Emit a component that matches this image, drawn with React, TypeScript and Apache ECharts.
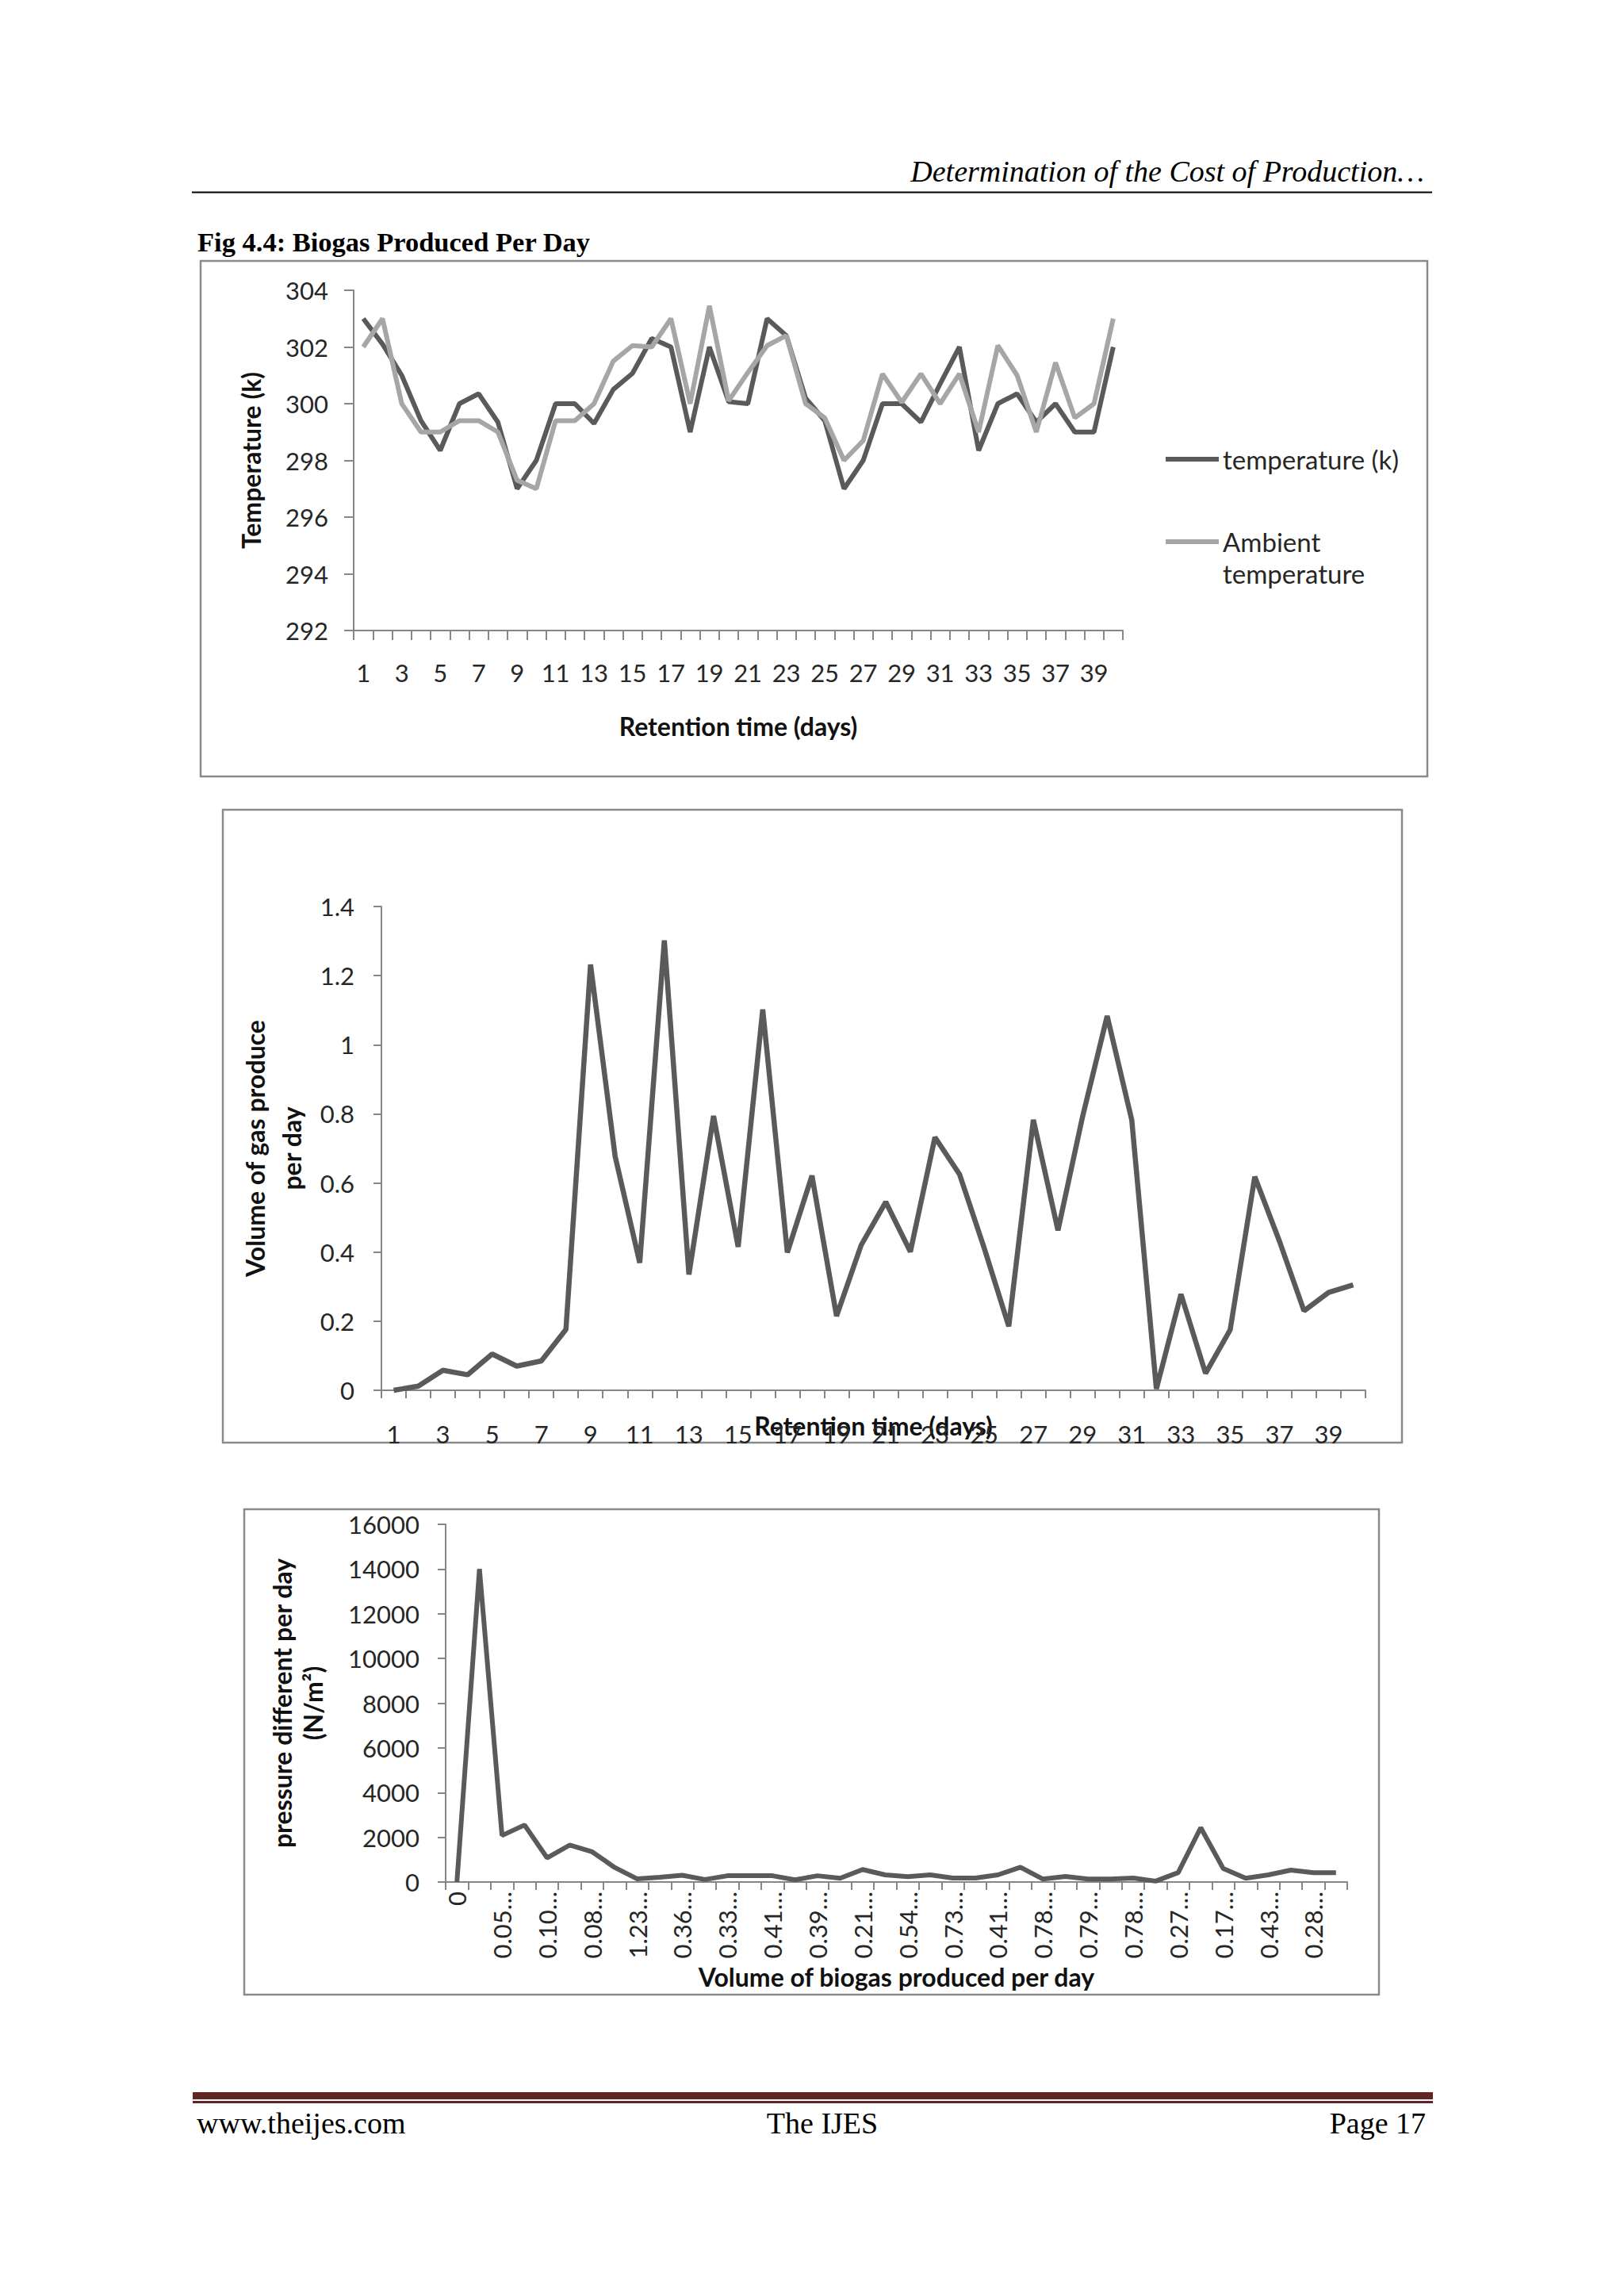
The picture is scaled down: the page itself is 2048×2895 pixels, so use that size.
import React, { useEffect, useRef } from 'react';
import * as echarts from 'echarts';

// ---------- data ----------
const days = ['1','2','3','4','5','6','7','8','9','10','11','12','13','14','15','16','17','18','19','20',
  '21','22','23','24','25','26','27','28','29','30','31','32','33','34','35','36','37','38','39','40'];

const temperatureK = [303, 302.1, 301, 299.4, 298.35, 300, 300.35, 299.35, 297, 298,
  300, 300, 299.3, 300.5, 301.07, 302.3, 302, 299, 302, 300.07,
  300, 303, 302.4, 300.2, 299.4, 297, 298, 300, 300, 299.35,
  300.7, 302, 298.35, 300, 300.35, 299.35, 300, 299, 299, 302];

const ambientTemperature = [302, 303, 300, 299, 299, 299.4, 299.4, 299, 297.3, 297,
  299.4, 299.4, 300, 301.5, 302.05, 302, 303, 300, 303.45, 300.1,
  301.1, 302.05, 302.4, 300, 299.5, 298, 298.7, 301.05, 300.05, 301.05,
  300, 301.05, 299, 302.05, 301, 299, 301.45, 299.5, 300, 303];

const gasVolume = [0, 0.012, 0.058, 0.045, 0.105, 0.07, 0.085, 0.176, 1.232, 0.677,
  0.369, 1.302, 0.335, 0.794, 0.415, 1.102, 0.399, 0.621, 0.215, 0.42,
  0.545, 0.401, 0.732, 0.625, 0.412, 0.185, 0.783, 0.463, 0.792, 1.083,
  0.782, 0.004, 0.278, 0.049, 0.175, 0.618, 0.432, 0.23, 0.283, 0.305];

const pressureDiff = [0, 14000, 2080, 2550, 1080, 1650, 1350, 650, 140, 210,
  300, 110, 280, 280, 280, 100, 280, 170, 560, 320,
  240, 320, 180, 180, 320, 660, 130, 250, 130, 130,
  180, 40, 420, 2430, 600, 170, 320, 530, 420, 420];

const volumeCategories = gasVolume.map((v) => String(v));

// ---------- styles ----------
const FONT = 'Lato, "Open Sans", sans-serif';
const SERIF = '"Liberation Serif", "Times New Roman", serif';
const AXIS_GREY = '#868686';
const DARK = '#5a5a5a';
const LIGHT = '#a6a6a6';
const LABEL = '#262626';
const TICK_FS = 31;

const axisLine = { show: true, lineStyle: { color: AXIS_GREY, width: 2 } };
const axisTick = (len: number) => ({ show: true, length: len, interval: 0, lineStyle: { color: AXIS_GREY, width: 2 } });
const nameStyle = (lh?: number) => ({ fontFamily: FONT, fontSize: 32, fontWeight: 'bold', color: '#111', lineHeight: lh });

function buildOption(): any {
  return {
    animation: false,
    backgroundColor: '#ffffff',
    grid: [
      { left: 446, top: 366, width: 970, height: 429 },
      { left: 481, top: 1143, width: 1241, height: 610 },
      { left: 562, top: 1922, width: 1137, height: 451 },
    ],
    xAxis: [
      {
        type: 'category', gridIndex: 0, data: days, boundaryGap: true,
        axisLine, axisTick: axisTick(12),
        axisLabel: { interval: 1, margin: 37, fontFamily: FONT, fontSize: TICK_FS, color: LABEL },
        name: 'Retention time (days)', nameLocation: 'middle', nameGap: 104, nameMoveOverlap: false, nameTextStyle: nameStyle(),
      },
      {
        type: 'category', gridIndex: 1, data: days, boundaryGap: true,
        axisLine, axisTick: axisTick(10),
        axisLabel: { interval: 1, margin: 39, fontFamily: FONT, fontSize: TICK_FS, color: LABEL },
        name: 'Retention time (days)', nameLocation: 'middle', nameGap: 28, nameMoveOverlap: false, nameTextStyle: nameStyle(),
      },
      {
        type: 'category', gridIndex: 2, data: volumeCategories, boundaryGap: true,
        axisLine, axisTick: axisTick(10),
        axisLabel: {
          interval: 1, rotate: 90, margin: 12, fontFamily: FONT, fontSize: TICK_FS, color: LABEL,
          formatter: (s: string) => (s.length > 4 ? s.slice(0, 4) + '…' : s),
        },
        name: 'Volume of biogas produced per day', nameLocation: 'middle', nameGap: 103, nameMoveOverlap: false, nameTextStyle: nameStyle(),
      },
    ],
    yAxis: [
      {
        type: 'value', gridIndex: 0, min: 292, max: 304, interval: 2,
        axisLine, axisTick: axisTick(12), splitLine: { show: false },
        axisLabel: { margin: 32, fontFamily: FONT, fontSize: TICK_FS, color: LABEL },
        name: 'Temperature (k)', nameLocation: 'middle', nameRotate: 90, nameGap: 114, nameMoveOverlap: false, nameTextStyle: nameStyle(),
      },
      {
        type: 'value', gridIndex: 1, min: 0, max: 1.4, interval: 0.2,
        axisLine, axisTick: axisTick(10), splitLine: { show: false },
        axisLabel: { margin: 34, fontFamily: FONT, fontSize: TICK_FS, color: LABEL },
        name: 'Volume of gas produce\nper day', nameLocation: 'middle', nameRotate: 90, nameGap: 91, nameMoveOverlap: false, nameTextStyle: nameStyle(46),
      },
      {
        type: 'value', gridIndex: 2, min: 0, max: 16000, interval: 2000,
        axisLine, axisTick: axisTick(10), splitLine: { show: false },
        axisLabel: { margin: 33, fontFamily: FONT, fontSize: TICK_FS, color: LABEL, formatter: (v: number) => String(v) },
        name: 'pressure different per day\n(N/m²)', nameLocation: 'middle', nameRotate: 90, nameGap: 148, nameMoveOverlap: false, nameTextStyle: nameStyle(39),
      },
    ],
    legend: [
      {
        left: 1470, top: 559, orient: 'vertical', padding: 0, selectedMode: false,
        icon: 'rect', itemWidth: 67, itemHeight: 6,
        itemStyle: { color: DARK, borderWidth: 0 },
        data: ['temperature (k)'],
        textStyle: { fontFamily: FONT, fontSize: 33, color: LABEL, lineHeight: 40 },
      },
      {
        left: 1470, top: 623, orient: 'vertical', padding: 0, selectedMode: false,
        icon: 'rect', itemWidth: 67, itemHeight: 6,
        itemStyle: { color: LIGHT, borderWidth: 0 },
        data: ['Ambient temperature'],
        // a blank first line keeps the key level with the first line of the wrapped name
        formatter: () => ' \nAmbient\ntemperature',
        textStyle: { fontFamily: FONT, fontSize: 33, color: LABEL, lineHeight: 40 },
      },
    ],
    series: [
      {
        type: 'line', name: 'temperature (k)', xAxisIndex: 0, yAxisIndex: 0, data: temperatureK,
        symbol: 'none', lineStyle: { color: DARK, width: 6 }, itemStyle: { color: DARK },
      },
      {
        type: 'line', name: 'Ambient temperature', xAxisIndex: 0, yAxisIndex: 0, data: ambientTemperature,
        symbol: 'none', lineStyle: { color: LIGHT, width: 6 }, itemStyle: { color: LIGHT },
      },
      {
        type: 'line', name: 'Volume of gas produce per day', xAxisIndex: 1, yAxisIndex: 1, data: gasVolume,
        symbol: 'none', lineStyle: { color: DARK, width: 6.5 }, itemStyle: { color: DARK },
      },
      {
        type: 'line', name: 'pressure different per day', xAxisIndex: 2, yAxisIndex: 2, data: pressureDiff,
        symbol: 'none', lineStyle: { color: DARK, width: 6 }, itemStyle: { color: DARK },
      },
    ],
    graphic: [
      // page header
      {
        type: 'text', x: 1796, y: 216, silent: true,
        style: { text: 'Determination of the Cost of Production…', font: `italic 38px ${SERIF}`, fill: '#000', textAlign: 'right', textVerticalAlign: 'middle' },
      },
      { type: 'line', silent: true, shape: { x1: 242, y1: 242.5, x2: 1806, y2: 242.5 }, style: { stroke: '#000', lineWidth: 2 } },
      {
        type: 'text', x: 249, y: 305, silent: true,
        style: { text: 'Fig 4.4: Biogas Produced Per Day', font: `bold 34.5px ${SERIF}`, fill: '#000', textAlign: 'left', textVerticalAlign: 'middle' },
      },
      // chart frames
      { type: 'rect', silent: true, z: -1, shape: { x: 253, y: 329, width: 1547, height: 650 }, style: { fill: 'none', stroke: '#8a8a8a', lineWidth: 2.5 } },
      { type: 'rect', silent: true, z: -1, shape: { x: 281, y: 1021, width: 1487, height: 798 }, style: { fill: 'none', stroke: '#8a8a8a', lineWidth: 2.5 } },
      { type: 'rect', silent: true, z: -1, shape: { x: 308, y: 1903, width: 1431, height: 612 }, style: { fill: 'none', stroke: '#8a8a8a', lineWidth: 2.5 } },
      // page footer
      { type: 'rect', silent: true, shape: { x: 243, y: 2638, width: 1564, height: 9 }, style: { fill: '#622423' } },
      { type: 'rect', silent: true, shape: { x: 243, y: 2649, width: 1564, height: 3 }, style: { fill: '#622423' } },
      {
        type: 'text', x: 248, y: 2677, silent: true,
        style: { text: 'www.theijes.com', font: `38px ${SERIF}`, fill: '#000', textAlign: 'left', textVerticalAlign: 'middle' },
      },
      {
        type: 'text', x: 1037, y: 2677, silent: true,
        style: { text: 'The IJES', font: `38px ${SERIF}`, fill: '#000', textAlign: 'center', textVerticalAlign: 'middle' },
      },
      {
        type: 'text', x: 1798, y: 2677, silent: true,
        style: { text: 'Page 17', font: `38px ${SERIF}`, fill: '#000', textAlign: 'right', textVerticalAlign: 'middle' },
      },
    ],
  };
}

export default function App() {
  const ref = useRef<HTMLDivElement>(null);
  useEffect(() => {
    if (!ref.current) return;
    const chart = echarts.init(ref.current, null, { renderer: 'svg', width: 2048, height: 2895 });
    chart.setOption(buildOption());
    return () => chart.dispose();
  }, []);
  return (
    <div
      ref={ref}
      style={{ position: 'absolute', left: 0, top: 0, width: 2048, height: 2895, background: '#ffffff' }}
    />
  );
}
